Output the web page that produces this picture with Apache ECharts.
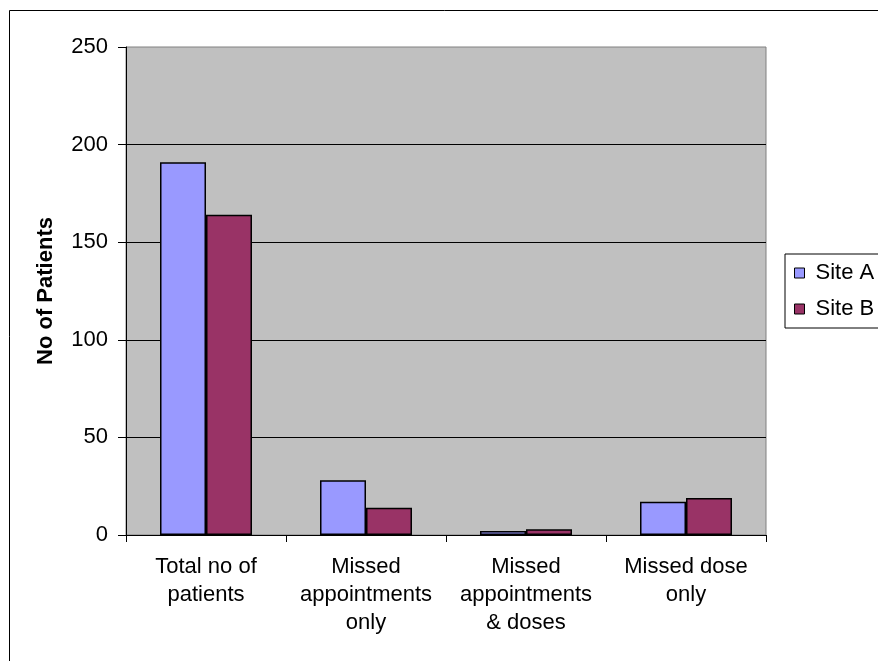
<!DOCTYPE html>
<html>
<head>
<meta charset="utf-8">
<script src="https://cdn.jsdelivr.net/npm/echarts@6/dist/echarts.min.js"></script>
<style>
html,body{margin:0;padding:0;background:#fff;}
#chart{width:878px;height:661px;}
</style>
</head>
<body>
<div id="chart"></div>
<script>
var categories = ['Total no of\npatients', 'Missed\nappointments\nonly', 'Missed\nappointments\n& doses', 'Missed dose\nonly'];
var siteA = [191, 28, 2, 17];
var siteB = [164, 14, 3, 19];
var yTicks = [0, 50, 100, 150, 200, 250];

var chart = echarts.init(document.getElementById('chart'), null, {renderer: 'canvas'});
var font = '"Liberation Sans", Arial, sans-serif';
chart.setOption({
  animation: false,
  backgroundColor: '#ffffff',
  textStyle: {fontFamily: font},
  graphic: [{
    type: 'rect', silent: true, z: -1,
    shape: {x: 9.5, y: 10.5, width: 900, height: 700},
    style: {fill: 'none', stroke: '#000', lineWidth: 1}
  }],
  grid: {
    left: 126, top: 47, width: 640, height: 488,
    show: true, backgroundColor: '#C0C0C0', borderColor: '#808080', borderWidth: 1
  },
  legend: {
    orient: 'vertical', left: 785, top: 254,
    padding: [8, 10, 8, 9],
    borderColor: '#000', borderWidth: 1, borderRadius: 0,
    itemWidth: 10, itemHeight: 10, itemGap: 14,
    icon: 'rect',
    textStyle: {fontSize: 22, fontFamily: font, color: '#000', padding: [0, 0, 0, 6]},
    data: [
      {name: 'Site A', itemStyle: {color: '#9999FF', borderColor: '#000', borderWidth: 1}},
      {name: 'Site B', itemStyle: {color: '#993366', borderColor: '#000', borderWidth: 1}}
    ]
  },
  xAxis: {
    type: 'category', data: categories,
    axisLine: {show: true, lineStyle: {color: '#000', width: 1}},
    axisTick: {show: true, length: 7, alignWithLabel: false, lineStyle: {color: '#000'}},
    axisLabel: {fontSize: 22, fontFamily: font, color: '#000', lineHeight: 28, margin: 18, interval: 0}
  },
  yAxis: {
    type: 'value', min: yTicks[0], max: yTicks[yTicks.length - 1], interval: 50,
    name: 'No of Patients', nameLocation: 'middle', nameGap: 69, nameRotate: 90,
    nameTextStyle: {fontSize: 22, fontWeight: 'bold', fontFamily: font, color: '#000'},
    axisLine: {show: true, lineStyle: {color: '#000', width: 1}},
    axisTick: {show: true, length: 8, lineStyle: {color: '#000'}},
    axisLabel: {fontSize: 22, fontFamily: font, color: '#000', margin: 18},
    splitLine: {show: true, showMaxLine: false, lineStyle: {color: '#000', width: 1}}
  },
  series: [
    {name: 'Site A', type: 'bar', data: siteA, barWidth: 46, barGap: '0%',
     itemStyle: {color: '#9999FF', borderColor: '#000', borderWidth: 1.5}},
    {name: 'Site B', type: 'bar', data: siteB, barWidth: 46, barGap: '0%',
     itemStyle: {color: '#993366', borderColor: '#000', borderWidth: 1.5}}
  ]
});
</script>
</body>
</html>
